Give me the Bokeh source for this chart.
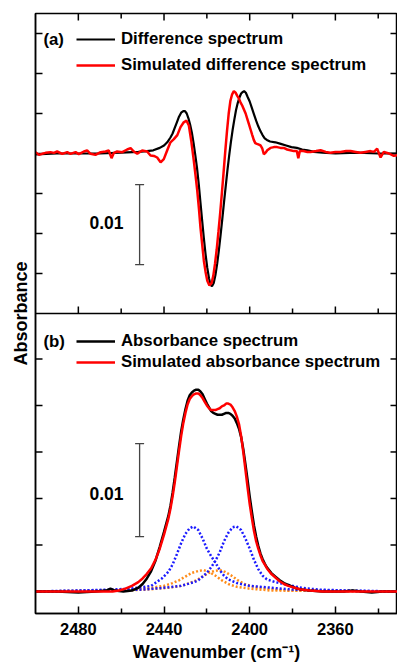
import math
from bokeh.plotting import figure
from bokeh.models import (Range1d, FixedTicker, Legend, LegendItem,
                          Label, Whisker, TeeHead, ColumnDataSource)
from bokeh.embed import file_html
from bokeh.resources import INLINE

# ---------------- data ----------------
# (a) difference spectrum (black)
diff_wn = [2500, 2490, 2480, 2470, 2460, 2452, 2448, 2445, 2442, 2440, 2438.5, 2437, 2436,
           2435, 2434, 2433, 2432, 2431, 2430.2, 2429.4, 2428.6, 2427.8, 2427.0, 2426.2,
           2425.4, 2424.6, 2423.8, 2423.0, 2422.2, 2421.4, 2420.6, 2419.8, 2419.0, 2418.3,
           2417.6, 2416.8, 2416.0, 2415.2, 2414.4, 2413.6, 2412.8, 2412.0, 2411.2, 2410.4,
           2409.6, 2408.8, 2408.0, 2407.2, 2406.4, 2405.6, 2404.8, 2404.0, 2403.2, 2402.6,
           2401.8, 2401.0, 2400.0, 2399.0, 2398.0, 2397.0, 2396.0, 2395.0, 2394.0, 2393.0,
           2392.0, 2390.5, 2388.0, 2385.5, 2383.0, 2380.5, 2378.0, 2375.5, 2373.0, 2370.0,
           2366.0, 2360.0, 2350.0, 2340.0, 2331.0]
diff_abs = [-0.0001, 0.0, 0.0, 0.0, 0.0001, 0.0002, 0.0003, 0.0004, 0.0007, 0.0010, 0.0014,
            0.0020, 0.0025, 0.0032, 0.0039, 0.0046, 0.0051, 0.0053, 0.0053, 0.0050, 0.0044,
            0.0036, 0.0026, 0.0013, -0.0002, -0.0018, -0.0038, -0.0061, -0.0084, -0.0106,
            -0.0126, -0.0143, -0.0156, -0.0164, -0.0166, -0.0162, -0.0152, -0.0138, -0.0121,
            -0.0102, -0.0082, -0.0061, -0.0041, -0.0021, -0.0003, 0.0014, 0.0029, 0.0042,
            0.0054, 0.0063, 0.0070, 0.0075, 0.0077, 0.0078, 0.0076, 0.0071, 0.0065, 0.0057,
            0.0049, 0.0041, 0.0034, 0.0028, 0.0023, 0.0019, 0.0017, 0.0015, 0.0014, 0.0012,
            0.0010, 0.0008, 0.0007, 0.0005, 0.0004, 0.0002, 0.0001, 0.0, 0.0001, 0.0, 0.0]

# (a) simulated difference spectrum (red)
simdiff_wn = [2500.0, 2498.4, 2496.9, 2495.3, 2493.0, 2491.4, 2489.9, 2487.5, 2485.2, 2483.7,
              2481.3, 2479.8, 2477.4, 2475.9, 2474.3, 2472.0, 2469.6, 2467.3, 2465.8, 2464.5,
              2463.4, 2461.9, 2459.5, 2457.2, 2455.6, 2454.1, 2452.5, 2450.2, 2447.9, 2446.3,
              2444.7, 2443.2, 2441.6, 2440.1, 2438.5, 2437.0, 2435.4, 2433.8, 2432.3, 2430.8,
              2429.5, 2428.4, 2427.3, 2426.1, 2425.3, 2424.5, 2423.7, 2423.0, 2422.2, 2421.4,
              2420.6, 2419.8, 2418.8, 2417.8, 2417.0, 2416.2, 2415.4, 2414.6, 2413.8, 2413.0,
              2412.2, 2411.4, 2410.6, 2409.8, 2409.0, 2408.2, 2407.4, 2406.6, 2405.8, 2405.1,
              2404.3, 2403.5, 2402.7, 2401.9, 2401.2, 2400.4, 2399.6, 2398.8, 2398.1, 2397.4,
              2396.6, 2395.7, 2394.9, 2394.1, 2393.4, 2392.6, 2391.8, 2390.3, 2388.7, 2387.2,
              2385.6, 2384.1, 2382.5, 2381.0, 2379.4, 2378.0, 2377.3, 2376.6, 2375.0, 2373.1,
              2371.6, 2369.0, 2366.9, 2364.5, 2362.3, 2360.0, 2357.6, 2355.0, 2352.9, 2350.5,
              2348.3, 2346.0, 2343.6, 2342.0, 2340.5, 2338.9, 2337.4, 2335.0, 2332.7, 2331.0]
simdiff_abs = [0.00017, -0.00017, -0.00004, 0.00008, 0.00017, 0.00008, 0.00025, -0.00004,
               0.00017, -0.00004, 0.00017, -0.00008, 0.00025, 0.00038, -0.00004, -0.00017,
               0.00017, 0.00025, 0.00038, -0.00058, 0.00008, 0.00025, 0.00017, 0.0005,
               0.00067, 0.00025, -0.00004, 0.00038, 0.00025, -0.00025,
               -0.0003, -0.0005, -0.0011, -0.0007, 0.0004, 0.0014, 0.0018, 0.0023, 0.0033,
               0.0039, 0.0041, 0.0035, 0.0016, -0.0009, -0.0027, -0.0046, -0.0069, -0.0092,
               -0.0113, -0.0134, -0.0148, -0.0159, -0.0165, -0.0162, -0.0153, -0.0138,
               -0.0120, -0.0098, -0.0075, -0.0050, -0.0024, 0.0003, 0.0028, 0.0050, 0.0066,
               0.0074, 0.0078, 0.0076, 0.0072, 0.0069, 0.0064, 0.0060, 0.0055, 0.0050, 0.0044,
               0.0037, 0.0030, 0.0023, 0.0017, 0.0013, 0.0012, 0.0011, 0.0010, 0.0006,
               -0.0001, 0.0001, 0.0004, 0.0007, 0.0008, 0.0008, 0.0007, 0.0007, 0.0005,
               0.0004, 0.0003, 0.0003, -0.0006, 0.0003, 0.0003, 0.0002, 0.0002, 0.0003,
               0.0004, 0.0002, 0.0001, 0.0002, 0.0002, 0.0003, 0.0003, 0.0002, 0.0001, 0.0002,
               0.0003, 0.0002, 0.0006, -0.0005, 0.0002, 0.0, -0.0003, -0.0002]

# (b) absorbance spectrum (black)
abs_wn = [2500, 2490, 2480, 2472, 2467, 2465, 2463, 2459, 2455, 2452, 2450, 2448, 2446, 2444,
          2442, 2440, 2438, 2437, 2436, 2435, 2434, 2433, 2432, 2431, 2430, 2429, 2428, 2427,
          2426, 2425, 2424, 2423, 2422, 2421, 2420, 2419, 2418, 2417, 2416, 2415, 2414, 2413,
          2412, 2411, 2410, 2409, 2408, 2407, 2406, 2405, 2404, 2403, 2402, 2401, 2400, 2399,
          2398, 2397, 2396, 2395, 2394, 2393, 2392, 2390, 2388, 2386, 2384, 2382, 2379, 2376,
          2372, 2366, 2356, 2352, 2348, 2343, 2338, 2331]
abs_val = [0.0, 0.0, -0.0001, 0.0, 0.0001, 0.0003, 0.0001, 0.0, 0.0001, 0.0004, 0.0008,
           0.0014, 0.0022, 0.0033, 0.0048, 0.0064, 0.0081, 0.0092, 0.0106, 0.0122, 0.0139,
           0.0156, 0.0172, 0.0185, 0.0196, 0.0205, 0.0211, 0.0214, 0.0216, 0.0217, 0.0217,
           0.0215, 0.0212, 0.0207, 0.0202, 0.0198, 0.0194, 0.0192, 0.0191, 0.0190, 0.0190,
           0.0190, 0.0191, 0.0192, 0.0192, 0.0191, 0.0189, 0.0186, 0.0181, 0.0175, 0.0166,
           0.0153, 0.0137, 0.0120, 0.0102, 0.0086, 0.0071, 0.0059, 0.0049, 0.0041, 0.0035,
           0.0030, 0.0026, 0.0020, 0.0016, 0.0012, 0.0009, 0.0007, 0.0004, 0.0002, 0.0001,
           0.0, 0.0, 0.0001, 0.0, -0.0001, 0.0, 0.0]

# (b) simulated absorbance spectrum (red)
simabs_wn = [2500, 2480, 2470, 2464, 2461, 2458, 2455, 2452, 2450, 2448, 2446, 2444, 2442,
             2440, 2438, 2437, 2436, 2435, 2434, 2433, 2432, 2431, 2430, 2429, 2428, 2427,
             2426, 2425, 2424, 2423, 2422, 2421, 2420, 2419, 2418, 2417, 2416, 2415, 2414,
             2413, 2412, 2411, 2410, 2409, 2408, 2407, 2406, 2405, 2404, 2403, 2402, 2401,
             2400, 2399, 2398, 2397, 2396, 2395, 2394, 2393, 2392, 2390, 2388, 2386, 2384,
             2382, 2379, 2376, 2372, 2366, 2331]
simabs_val = [0.0, 0.0, 0.0, 0.0, 0.0001, 0.0003, 0.0006, 0.0010, 0.0014, 0.0019, 0.0025,
              0.0034, 0.0046, 0.0061, 0.0078, 0.0089, 0.0102, 0.0117, 0.0134, 0.0151, 0.0167,
              0.0181, 0.0192, 0.0201, 0.0207, 0.0210, 0.0212, 0.0213, 0.0213, 0.0211, 0.0208,
              0.0204, 0.0200, 0.0197, 0.0195, 0.0195, 0.0195, 0.0196, 0.0197, 0.0199, 0.0200,
              0.0202, 0.0202, 0.0201, 0.0198, 0.0194, 0.0188, 0.0180, 0.0167, 0.0150, 0.0131,
              0.0112, 0.0094, 0.0079, 0.0065, 0.0054, 0.0046, 0.0039, 0.0033, 0.0029, 0.0025,
              0.0019, 0.0015, 0.0011, 0.0008, 0.0006, 0.0004, 0.0002, 0.0001, 0.0, 0.0]

# (b) fitted components, blue dotted
comp1_wn = [2500, 2480, 2465, 2456, 2446, 2441, 2438, 2436, 2434, 2432, 2430, 2428, 2426.3,
            2424, 2422, 2420, 2418, 2416, 2414, 2412, 2410, 2406, 2400, 2390, 2380, 2365, 2331]
comp1_val = [0.0, 0.0001, 0.0002, 0.0003, 0.0006, 0.0014, 0.0021, 0.0029, 0.0040, 0.0052,
             0.0062, 0.0068, 0.0070, 0.0066, 0.0057, 0.0046, 0.0038, 0.0031, 0.0023, 0.0017,
             0.0013, 0.0009, 0.0006, 0.0004, 0.0002, 0.0001, 0.0]
comp2_wn = [2500, 2470, 2450, 2440, 2432, 2426, 2424, 2420, 2418, 2416, 2414, 2412, 2410,
            2408, 2406.2, 2404, 2402, 2400, 2398, 2396, 2394, 2392, 2388, 2382, 2376, 2368,
            2355, 2331]
comp2_val = [0.0, 0.0001, 0.0002, 0.0004, 0.0006, 0.0010, 0.0012, 0.0020, 0.0026, 0.0033,
             0.0042, 0.0054, 0.0063, 0.0069, 0.0070, 0.0066, 0.0057, 0.0046, 0.0034, 0.0024,
             0.0017, 0.0013, 0.0010, 0.0007, 0.0004, 0.0002, 0.0001, 0.0]
# (b) fitted components, orange dotted
comp3_wn = [2500, 2470, 2456, 2446, 2440, 2436, 2433, 2430, 2427, 2424, 2421.5, 2419, 2416,
            2413, 2410, 2406, 2400, 2390, 2331]
comp3_val = [0.0, 0.0001, 0.0002, 0.0004, 0.0006, 0.0009, 0.0012, 0.0016, 0.0020, 0.0022,
             0.0023, 0.0021, 0.0017, 0.0012, 0.0008, 0.0005, 0.0003, 0.0001, 0.0]
comp4_wn = [2500, 2460, 2448, 2438, 2432, 2428, 2425, 2422, 2419, 2416.5, 2414, 2411.5,
            2408.5, 2405.5, 2402.5, 2398, 2392, 2382, 2331]
comp4_val = [0.0, 0.0001, 0.0002, 0.0004, 0.0006, 0.0009, 0.0012, 0.0016, 0.0020, 0.0022,
             0.0023, 0.0021, 0.0017, 0.0012, 0.0008, 0.0005, 0.0003, 0.0001, 0.0]

x_ticks = [2480, 2440, 2400, 2360]
x_minor = [2460, 2420, 2380, 2340]
a_ticks = [-0.015, -0.01, -0.005, 0.0, 0.005, 0.01, 0.015]
b_ticks = [0.0, 0.005, 0.01, 0.015, 0.02, 0.025]

# ---------------- figure ----------------
FONT = "Liberation Sans"
X_LO, X_HI = 2500, 2331          # x range (reversed)
A_LO, A_HI = -0.0575, 0.0175     # panel (a) scale, top half of the frame
A_SPLIT = -0.02                  # boundary between panels in panel (a) units
B_LO, B_HI = -0.00237, 0.06215   # panel (b) scale, bottom half of the frame

p = figure(width=397, height=665,
           x_range=Range1d(X_LO, X_HI), y_range=Range1d(A_LO, A_HI),
           output_backend="svg", toolbar_location=None,
           min_border_left=35, min_border_right=0, min_border_top=13, min_border_bottom=52,
           outline_line_color="black", outline_line_width=1.5,
           background_fill_color="white", border_fill_color="white")
p.extra_y_ranges = {"b": Range1d(B_LO, B_HI)}
p.grid.visible = False

# bottom x axis (real axis with labels)
xax = p.xaxis[0]
xax.ticker = FixedTicker(ticks=x_ticks, minor_ticks=x_minor)
xax.major_tick_in = 7
xax.major_tick_out = 0
xax.minor_tick_in = 5
xax.minor_tick_out = 0
xax.major_tick_line_width = 1.5
xax.minor_tick_line_width = 1.5
xax.axis_line_width = 1.5
xax.major_label_text_font = FONT
xax.major_label_text_font_style = "bold"
xax.major_label_text_font_size = "16.5px"
xax.major_label_text_color = "black"
xax.major_label_standoff = 9
xax.axis_label = "Wavenumber (cm\u207b\u00b9)"
xax.axis_label_text_font = FONT
xax.axis_label_text_font_style = "bold"
xax.axis_label_text_font_size = "18px"
xax.axis_label_text_color = "black"
xax.axis_label_standoff = 4

# left y axis only carries the shared label; its ticks are drawn below as short rays
yax = p.yaxis[0]
yax.ticker = FixedTicker(ticks=[], minor_ticks=[])
yax.axis_line_width = 1.5
yax.axis_label = "Absorbance"
yax.axis_label_text_font = FONT
yax.axis_label_text_font_style = "bold"
yax.axis_label_text_font_size = "18px"
yax.axis_label_text_color = "black"
yax.axis_label_standoff = 5

TICK = dict(length_units="screen", line_color="black", line_width=1.5)
# x ticks on the top edge and on the panel boundary (pointing into panel a)
p.ray(x=x_ticks, y=[A_HI] * len(x_ticks), length=7, angle=-math.pi / 2, **TICK)
p.ray(x=x_minor, y=[A_HI] * len(x_minor), length=5, angle=-math.pi / 2, **TICK)
p.ray(x=x_ticks, y=[A_SPLIT] * len(x_ticks), length=7, angle=math.pi / 2, **TICK)
p.ray(x=x_minor, y=[A_SPLIT] * len(x_minor), length=5, angle=math.pi / 2, **TICK)
# y ticks on both sides of each panel
p.ray(x=[X_LO] * len(a_ticks), y=a_ticks, length=7, angle=0, **TICK)
p.ray(x=[X_HI] * len(a_ticks), y=a_ticks, length=7, angle=math.pi, **TICK)
p.ray(x=[X_LO] * len(b_ticks), y=b_ticks, length=7, angle=0, y_range_name="b", **TICK)
p.ray(x=[X_HI] * len(b_ticks), y=b_ticks, length=7, angle=math.pi, y_range_name="b", **TICK)
# panel boundary line
p.segment(x0=[X_LO], y0=[A_SPLIT], x1=[X_HI], y1=[A_SPLIT], line_color="black", line_width=1.5)

# ---------------- curves ----------------
r_diff = p.line(diff_wn, diff_abs, line_color="black", line_width=2.2)
r_simdiff = p.line(simdiff_wn, simdiff_abs, line_color="#ff0000", line_width=2.5)

for wn, val, col in ((comp3_wn, comp3_val, "#ff8c1a"), (comp4_wn, comp4_val, "#ff8c1a"),
                     (comp1_wn, comp1_val, "#1a1aff"), (comp2_wn, comp2_val, "#1a1aff")):
    p.line(wn, val, y_range_name="b", line_color=col, line_width=2.5, line_dash="2 2")

r_abs = p.line(abs_wn, abs_val, y_range_name="b", line_color="black", line_width=2.5)
r_simabs = p.line(simabs_wn, simabs_val, y_range_name="b", line_color="#ff0000", line_width=2.5)

# ---------------- legends ----------------
def make_legend(items, loc, spacing):
    return Legend(items=items, location=loc, padding=0, margin=0, spacing=spacing,
                  glyph_width=39, glyph_height=20, label_height=20, label_standoff=6,
                  label_text_font=FONT, label_text_font_style="bold",
                  label_text_font_size="16.8px", label_text_color="black",
                  border_line_color=None, background_fill_alpha=0)

leg_a = make_legend([LegendItem(label="Difference spectrum", renderers=[r_diff]),
                     LegendItem(label="Simulated difference spectrum", renderers=[r_simdiff])],
                    (41, 538), 6)
leg_b = make_legend([LegendItem(label="Absorbance spectrum", renderers=[r_abs]),
                     LegendItem(label="Simulated absorbance spectrum", renderers=[r_simabs])],
                    (41, 241), 1)
p.add_layout(leg_a)
p.add_layout(leg_b)

# panel tags
for txt, yv, rng in (("(a)", 0.01425, "default"), ("(b)", 0.02688, "b")):
    p.add_layout(Label(x=2496.3, y=yv, y_range_name=rng, text=txt, text_align="left",
                       text_baseline="middle", text_font=FONT, text_font_style="bold",
                       text_font_size="16.8px", text_color="black"))

# scale bars (0.01 absorbance)
for lo, hi, ty, rng in ((-0.0139, -0.0039, -0.0086, "default"), (0.0059, 0.0159, 0.0105, "b")):
    src = ColumnDataSource(dict(base=[2451.4], lower=[lo], upper=[hi]))
    p.add_layout(Whisker(source=src, base="base", lower="lower", upper="upper",
                         dimension="height", y_range_name=rng,
                         line_color="#444444", line_width=1.3,
                         upper_head=TeeHead(size=9, line_color="#444444", line_width=1.3),
                         lower_head=TeeHead(size=9, line_color="#444444", line_width=1.3)))
    p.add_layout(Label(x=2466.85, y=ty, y_range_name=rng, text="0.01", text_align="center",
                       text_baseline="middle", text_font=FONT, text_font_style="bold",
                       text_font_size="17.5px", text_color="black"))

open("out.html", "w").write(file_html(p, INLINE))
